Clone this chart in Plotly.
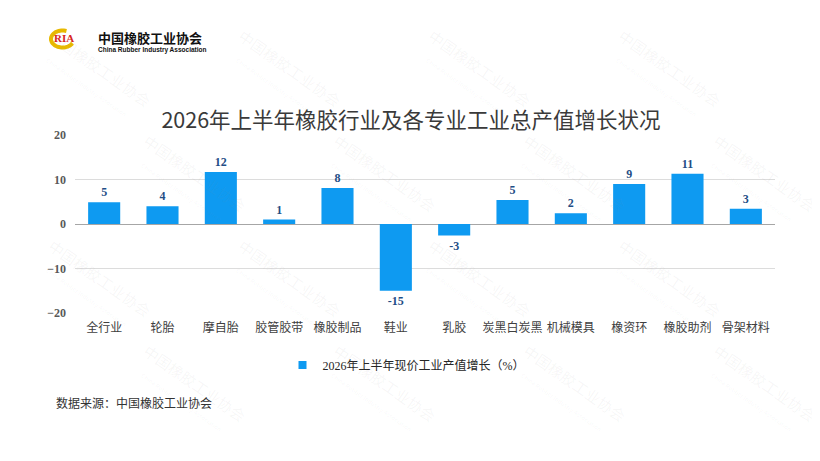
import math
import plotly.graph_objects as go

# 2026年上半年 各专业工业总产值增长（%）
categories = ["全行业", "轮胎", "摩自胎", "胶管胶带", "橡胶制品", "鞋业",
              "乳胶", "炭黑白炭黑", "机械模具", "橡资环", "橡胶助剂", "骨架材料"]
growth = [4.9, 4.0, 11.7, 1.0, 8.1, -15.0, -2.6, 5.4, 2.4, 9.0, 11.3, 3.4]
y_ticks = [-20, -10, 0, 10, 20]

title_text = "2026年上半年橡胶行业及各专业工业总产值增长状况"
series_name = "2026年上半年现价工业产值增长（%）"
source_text = "数据来源：中国橡胶工业协会"

serif = "Liberation Serif, Noto Sans CJK SC"
sans = "Noto Sans CJK SC, Noto Sans, sans-serif"
bar_color = "#0E9AF1"


# screen pixel -> paper coords (plot area spans x 75..775, y 135..313)
def px(x):
    return (x - 75) / 700


def py(y):
    return (313 - y) / 178


fig = go.Figure()
fig.add_trace(go.Bar(
    x=categories,
    y=growth,
    name=series_name,
    showlegend=False,
    marker=dict(color=bar_color, line=dict(width=0)),
    texttemplate="%{y:.0f}",
    textposition="outside",
    textfont=dict(family=serif, size=12, color="#1F4E86", weight="bold"),
    cliponaxis=False,
))
# small square legend key
fig.add_trace(go.Scatter(
    x=[None], y=[None], mode="markers", name=series_name,
    marker=dict(symbol="square", size=8, color=bar_color),
))

# faint diagonal watermarks, kept inside the frame
for row, yy in enumerate([75, 180, 285, 390]):
    for col in range(4):
        xx = 95 + col * 190 + (row % 2) * 95
        fig.add_annotation(
            x=px(xx), y=py(yy), xref="paper", yref="paper",
            xanchor="center", yanchor="middle",
            text="中国橡胶工业协会<br><span style='font-size:6px'>China Rubber Industry Association</span>",
            showarrow=False, textangle=35,
            font=dict(family=sans, size=15, color="rgba(140,140,140,0.07)"),
        )

fig.update_layout(
    width=820, height=461,
    paper_bgcolor="white", plot_bgcolor="white",
    margin=dict(l=67, r=53, t=127, b=156),
    title=dict(text=title_text, x=(411 - 8) / 820, xanchor="center",
               y=1 - 112 / 461, yanchor="middle", yref="container",
               font=dict(family=sans, size=21.5, color="#3A3A3A")),
    bargap=0.45,
    showlegend=True,
    legend=dict(orientation="h", x=px(406), xanchor="center", y=py(365), yanchor="middle",
                font=dict(family=serif, size=12, color="#262626"),
                itemwidth=30),
    xaxis=dict(tickfont=dict(family=sans, size=12, color="#404040"),
               showline=False, ticks="", ticklabelstandoff=6),
    yaxis=dict(range=[-20, 20], tickvals=y_ticks,
               tickfont=dict(family=serif, size=12, color="#595959", weight="bold"),
               gridcolor="#DCDCDC", gridwidth=1,
               zeroline=True, zerolinecolor="#A6A6A6", zerolinewidth=1,
               showline=False, ticks="", ticklabelstandoff=8),
)

# logo: yellow open ring with red RIA
cx, cy, rx, ry = 62.5, 39, 11.5, 8.5
pts = []
for k in range(0, 41):
    a = math.radians(70 + k * 6.5)
    pts.append((px(cx + rx * math.cos(a)), py(cy - ry * math.sin(a))))
path = "M " + " L ".join(f"{x:.4f},{y:.4f}" for x, y in pts)
fig.add_shape(type="path", path=path, xref="paper", yref="paper",
              line=dict(color="#E8B900", width=4))
fig.add_annotation(x=px(64), y=py(38), xref="paper", yref="paper",
                   xanchor="center", yanchor="middle",
                   text="<b>RIA</b>", showarrow=False,
                   font=dict(family="Liberation Serif", size=11, color="#D7261E"))
fig.add_annotation(x=px(96), y=py(37), xref="paper", yref="paper",
                   xanchor="left", yanchor="middle",
                   text="<b>中国橡胶工业协会</b>", showarrow=False,
                   font=dict(family=sans, size=13, color="#111111"))
fig.add_annotation(x=px(96), y=py(50), xref="paper", yref="paper",
                   xanchor="left", yanchor="middle",
                   text="<b>China Rubber Industry Association</b>", showarrow=False,
                   font=dict(family="Liberation Sans", size=6.5, color="#111111"))

# source note
fig.add_annotation(x=px(54), y=py(402), xref="paper", yref="paper",
                   xanchor="left", yanchor="middle", text=source_text, showarrow=False,
                   font=dict(family=sans, size=12, color="#333333"))

fig.write_html("out.html")
